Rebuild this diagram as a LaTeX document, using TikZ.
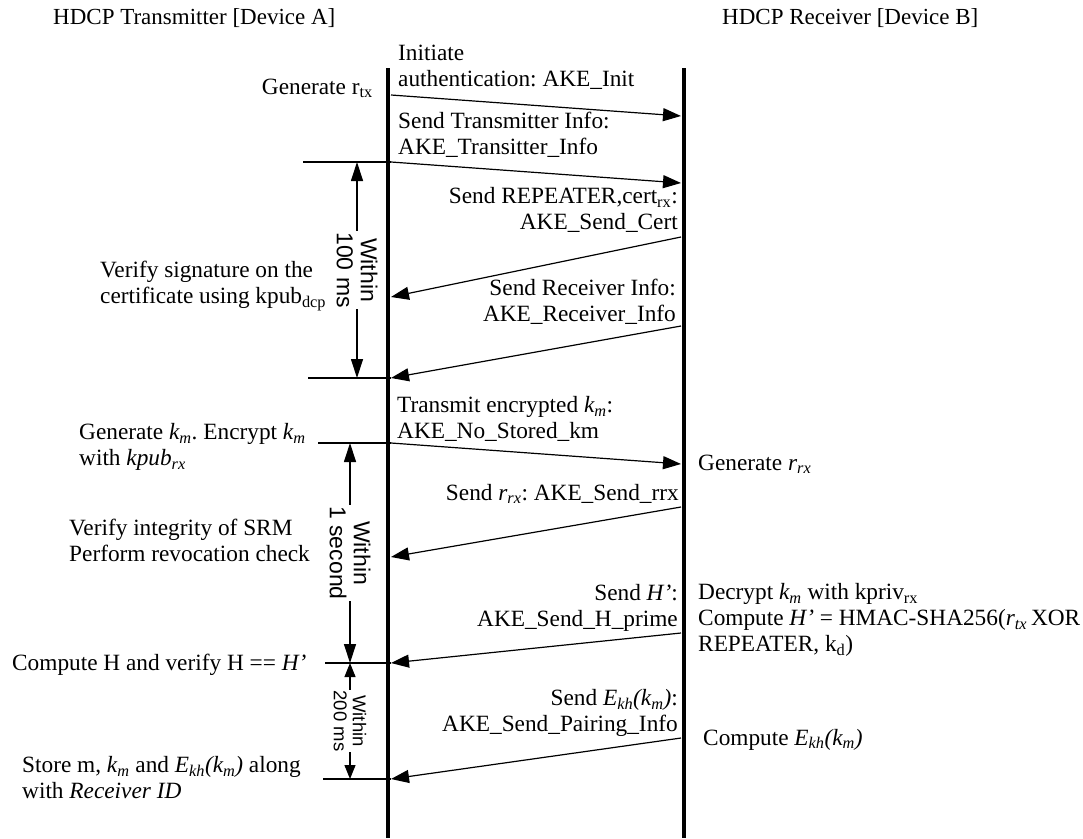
\documentclass[tikz,border=0pt]{standalone}
\usepackage{fontspec}
\setmainfont{Liberation Serif}
\newfontfamily\dimfont{Liberation Sans}
\usetikzlibrary{arrows.meta, positioning}
\frenchspacing

\newcommand{\sbs}[1]{\textsubscript{#1}}
\newcommand{\km}{\textit{k\textsubscript{m}}}
\newcommand{\Ekh}{\textit{E\textsubscript{kh}(k\textsubscript{m})}}
\newcommand{\Hp}{\textit{H’}}

\begin{document}
\begin{tikzpicture}[x=1pt, y=-1pt,
						lifeline/.style={draw, line width=4.8pt},
						msg/.style={draw, line width=1.2pt, -{Triangle[length=18pt, width=13pt]}},
						tick/.style={draw, line width=1.2pt},
						span/.style={draw, line width=1.2pt, {Triangle[length=19pt, width=12pt]}-{Triangle[length=19pt, width=12pt]}},
						smallspan/.style={span, {Triangle[length=14pt, width=11pt]}-{Triangle[length=14pt, width=11pt]}},
						lbl/.style={inner sep=0pt, align=left, font=\fontsize{23.3}{26}\selectfont},
						lblr/.style={lbl, align=right},
						spanlbl/.style={fill=white, inner sep=1pt, rotate=-90, align=center, font=\dimfont\fontsize{23}{24}\selectfont},]
		\useasboundingbox (0,0) rectangle (1083,838);

		% lifelines
		\coordinate (txtop) at (388,68);
		\coordinate (txbot) at (388,838);
		\coordinate (rxtop) at (684,68);
		\coordinate (rxbot) at (684,838);
		\node (tx) [lbl, anchor=north west, font=\fontsize{23}{26}\selectfont] at (53,8) {HDCP Transmitter [Device A]};
		\node (rx) [lbl, anchor=north west, font=\fontsize{23}{26}\selectfont] at (722,8) {HDCP Receiver [Device B]};
		\path (txtop) edge[lifeline] (txbot)
				(rxtop) edge[lifeline] (rxbot);

		% message end points
		\coordinate (a1) at (391,95);	\coordinate (b1) at (681,116);
		\coordinate (a2) at (391,162);	\coordinate (b2) at (681,183);
		\coordinate (b3) at (681,237);	\coordinate (a3) at (391,297);
		\coordinate (b4) at (681,326);	\coordinate (a4) at (391,378);
		\coordinate (a5) at (391,443);	\coordinate (b5) at (681,464);
		\coordinate (b6) at (681,507);	\coordinate (a6) at (391,557);
		\coordinate (b7) at (681,633);	\coordinate (a7) at (391,663);
		\coordinate (b8) at (681,738);	\coordinate (a8) at (391,779);

		% timing marks
		\coordinate (t2) at (303,162);
		\coordinate (t4) at (308,378);
		\coordinate (t5) at (318,443);
		\coordinate (t7) at (325,663);
		\coordinate (t8) at (323,779);
		\coordinate (s1top) at (357,162);	\coordinate (s1bot) at (357,378);
		\coordinate (s2top) at (350,443);	\coordinate (s2bot) at (350,663);
		\coordinate (s3top) at (350,663);	\coordinate (s3bot) at (350,779);

		\path 	(a1) edge[msg] (b1)
				(a2) edge[msg] (b2)
				(b3) edge[msg] (a3)
				(b4) edge[msg] (a4)
				(a5) edge[msg] (b5)
				(b6) edge[msg] (a6)
				(b7) edge[msg] (a7)
				(b8) edge[msg] (a8);

		\path 	(t2) edge[tick] (a2)
				(t4) edge[tick] (a4)
				(t5) edge[tick] (a5)
				(t7) edge[tick] (a7)
				(t8) edge[tick] (a8);

		\path 	(s1top) edge[span] node[spanlbl, midway] {Within\\100 ms} (s1bot)
				(s2top) edge[span] node[spanlbl, midway] {Within\\1 second} (s2bot)
				(s3top) edge[smallspan] node[spanlbl, midway, font=\dimfont\fontsize{18.5}{19}\selectfont] {Within\\200 ms} (s3bot);

		% message labels
		\node (l1) [lbl, above right=5pt and 7pt of a1] {Initiate\\authentication: AKE\_Init};
		\node (l2) [lbl, above right=4pt and 7pt of a2] {Send Transmitter Info:\\AKE\_Transitter\_Info};
		\node (l3) [lblr, above left=4pt and 3pt of b3] {Send REPEATER,cert\sbs{rx}:\\AKE\_Send\_Cert};
		\node (l4) [lblr, above left=1pt and 5pt of b4] {Send Receiver Info:\\AKE\_Receiver\_Info};
		\node (l5) [lbl, above right=1pt and 6pt of a5] {Transmit encrypted \km:\\AKE\_No\_Stored\_km};
		\node (l6) [lblr, above left=3pt and 2pt of b6] {Send \textit{r\textsubscript{rx}}: AKE\_Send\_rrx};
		\node (l7) [lblr, above left=1pt and 3pt of b7] {Send \Hp:\\AKE\_Send\_H\_prime};
		\node (l8) [lblr, above left=1pt and 3pt of b8] {Send \Ekh:\\AKE\_Send\_Pairing\_Info};

		% transmitter side
		\node (gen_rtx) [lbl, anchor=base east] at (373,94) {Generate r\sbs{tx}};
		\node (verify_sig) [lbl, anchor=north west] at (100,261) {Verify signature on the\\certificate using kpub\sbs{dcp}};
		\node (gen_km) [lbl, anchor=north west] at (79,423) {Generate \km. Encrypt \km\\with \textit{kpub\textsubscript{rx}}};
		\node (verify_srm) [lbl, anchor=north west] at (69,519) {Verify integrity of SRM\\Perform revocation check};
		\node (compute_h) [lbl, anchor=base west] at (12,670) {Compute H and verify H == \Hp};
		\node (store) [lbl, anchor=north west] at (22,756) {Store m, \km{} and \Ekh{} along\\with \textit{Receiver ID}};

		% receiver side
		\node (gen_rrx) [lbl, anchor=base west] at (698,470) {Generate \textit{r\textsubscript{rx}}};
		\node (decrypt) [lbl, anchor=north west] at (698,583) {Decrypt \km{} with kpriv\sbs{rx}\\Compute \Hp{} = HMAC-SHA256(\textit{r\textsubscript{tx}}\,XOR\\REPEATER, k\sbs{d})};
		\node (compute_e) [lbl, anchor=base west] at (703,745) {Compute \Ekh};
	\end{tikzpicture}
\end{document}
